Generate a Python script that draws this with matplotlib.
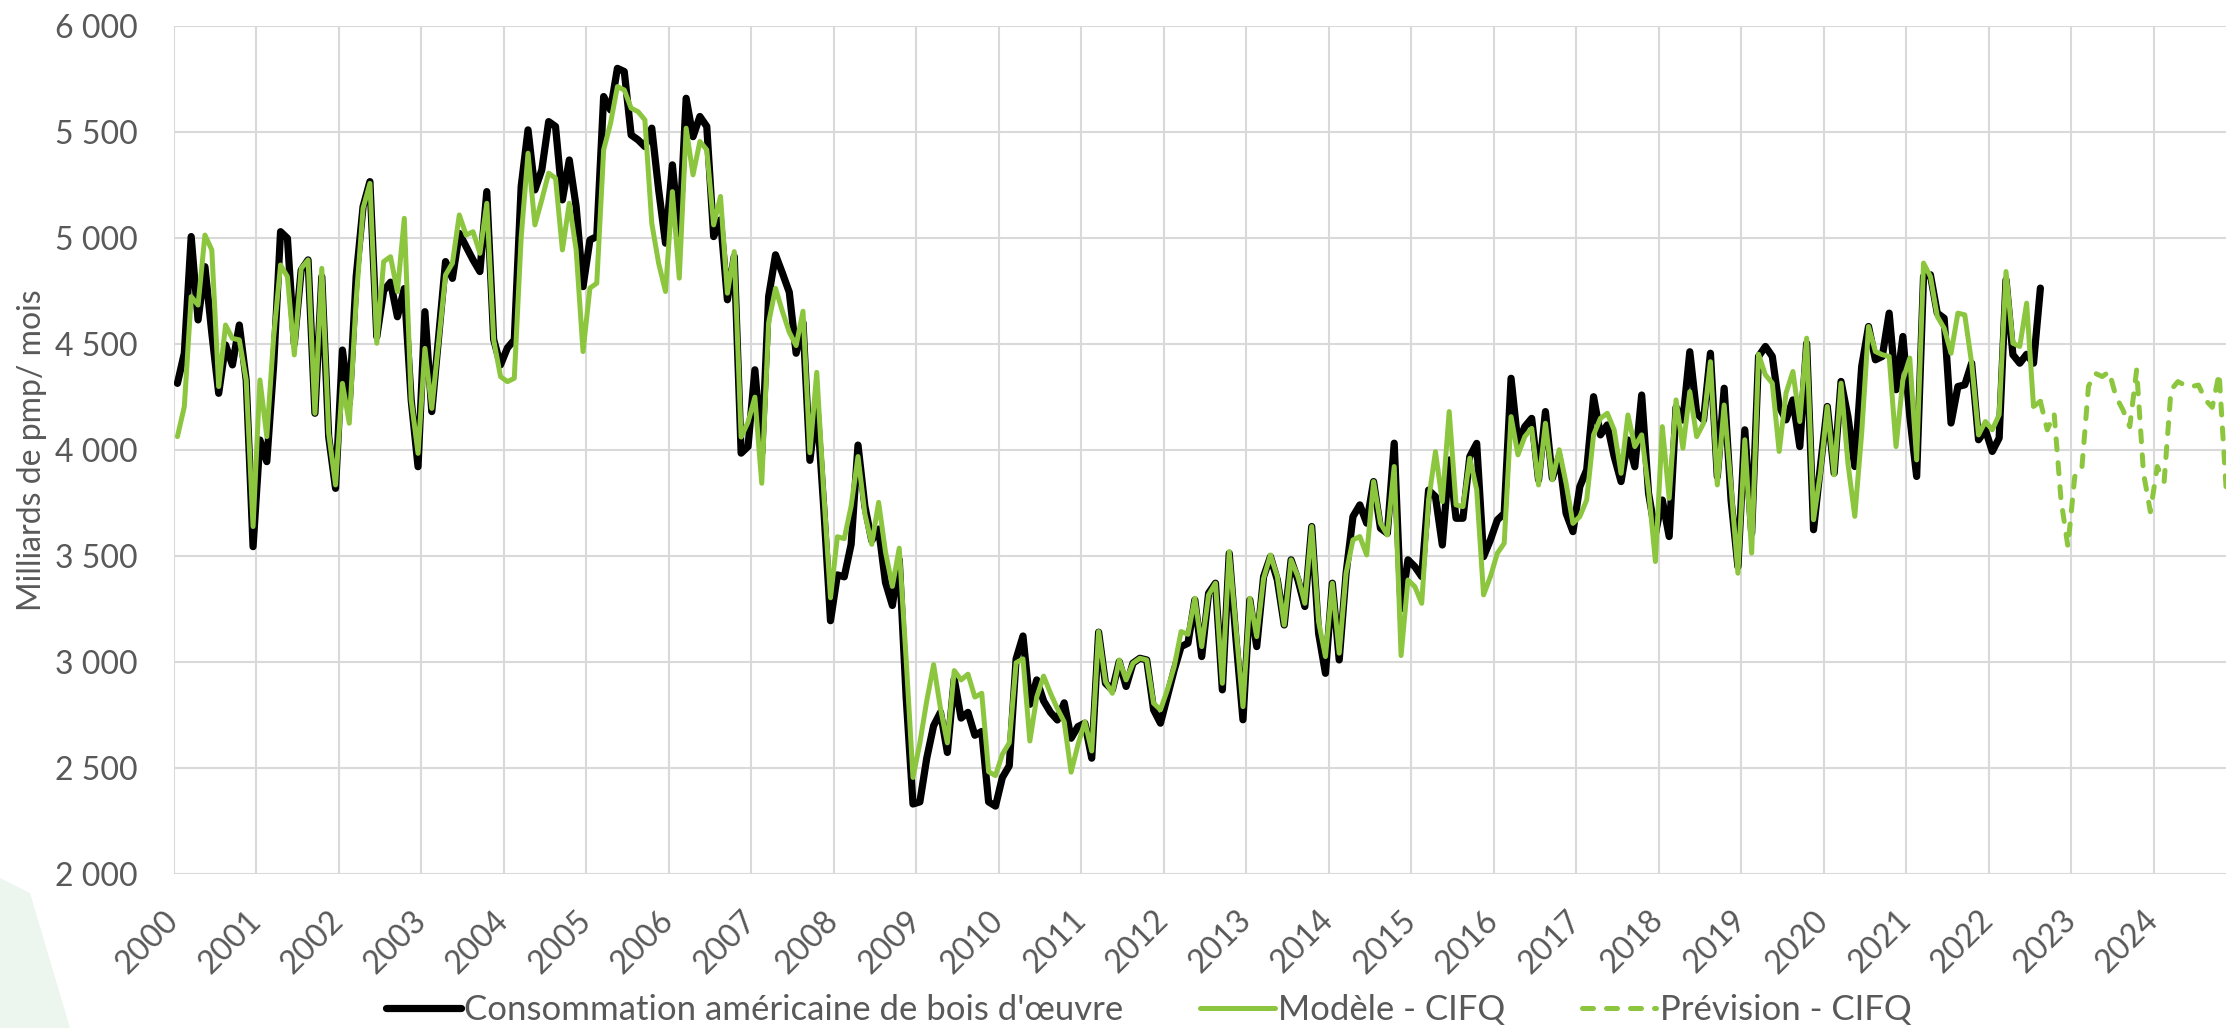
import numpy as np
import matplotlib
matplotlib.use("Agg")
import matplotlib.pyplot as plt
from matplotlib.patches import Polygon

plt.rcParams['font.family'] = ['Lato', 'DejaVu Sans']

# monthly values, Jan 2000 onwards (one row per year)
consommation = [
    4313, 4455, 5005, 4612, 4863, 4550, 4266, 4494, 4400, 4588, 4329, 3543,
    4046, 3944, 4400, 5028, 4997, 4500, 4847, 4895, 4172, 4816, 4062, 3818,
    4470, 4219, 4816, 5146, 5264, 4533, 4750, 4790, 4627, 4760, 4235, 3920,
    4651, 4180, 4533, 4887, 4808, 5020, 4957, 4895, 4840, 5217, 4520, 4400,
    4480, 4518, 5241, 5508, 5225, 5319, 5547, 5524, 5178, 5366, 5146, 4769,
    4989, 5005, 5665, 5602, 5798, 5783, 5484, 5461, 5429, 5516, 5225, 4974,
    5343, 5005, 5657, 5476, 5571, 5524, 5005, 5084, 4707, 4911, 3984, 4015,
    4377, 3984, 4722, 4919, 4833, 4743, 4455, 4599, 3950, 4220, 3734, 3194,
    3410, 3401, 3554, 4022, 3734, 3572, 3626, 3374, 3266, 3482, 2834, 2330,
    2340, 2546, 2699, 2762, 2573, 2920, 2735, 2762, 2654, 2672, 2340, 2320,
    2455, 2510, 3014, 3122, 2800, 2915, 2816, 2762, 2726, 2807, 2640, 2695,
    2711, 2546, 3140, 2899, 2868, 3001, 2884, 2994, 3017, 3009, 2774, 2711,
    2837, 2962, 3072, 3088, 3292, 3025, 3324, 3371, 2868, 3512, 3100, 2727,
    3292, 3072, 3402, 3496, 3386, 3174, 3481, 3386, 3261, 3638, 3135, 2946,
    3371, 3009, 3418, 3685, 3740, 3654, 3850, 3630, 3606, 4031, 3250, 3481,
    3449, 3402, 3810, 3779, 3551, 3952, 3677, 3677, 3968, 4030, 3496, 3575,
    3669, 3700, 4337, 4030, 4109, 4148, 3858, 4180, 3866, 3968, 3701, 3614,
    3826, 3905, 4250, 4070, 4117, 3968, 3850, 4046, 3920, 4258, 3795, 3606,
    3763, 3591, 4200, 4140, 4462, 4172, 4140, 4455, 3873, 4290, 3763, 3449,
    4094, 3607, 4440, 4487, 4440, 4204, 4141, 4235, 4015, 4502, 3623, 3921,
    4204, 3890, 4322, 4157, 3921, 4392, 4581, 4424, 4440, 4644, 4283, 4534,
    4157, 3874, 4817, 4825, 4644, 4620, 4126, 4298, 4306, 4408, 4047, 4094,
    3992, 4055, 4801, 4448, 4408, 4450, 4408, 4762,
]

modele = [
    4062, 4203, 4722, 4682, 5012, 4942, 4298, 4588, 4525, 4518, 4329, 3638,
    4329, 4062, 4533, 4871, 4816, 4447, 4855, 4895, 4172, 4855, 4077, 3834,
    4313, 4125, 4706, 5138, 5256, 4502, 4887, 4910, 4745, 5091, 4235, 3983,
    4478, 4195, 4510, 4824, 4879, 5107, 5012, 5028, 4926, 5162, 4518, 4345,
    4321, 4337, 5000, 5398, 5060, 5178, 5304, 5280, 4942, 5162, 4942, 4463,
    4762, 4785, 5414, 5539, 5712, 5696, 5610, 5594, 5555, 5068, 4879, 4746,
    5217, 4809, 5516, 5296, 5453, 5414, 5060, 5194, 4738, 4934, 4060, 4130,
    4248, 3842, 4599, 4761, 4653, 4554, 4491, 4653, 3986, 4365, 3806, 3302,
    3590, 3581, 3734, 3968, 3698, 3554, 3752, 3518, 3356, 3536, 3014, 2455,
    2618, 2816, 2987, 2780, 2618, 2959, 2915, 2942, 2834, 2852, 2482, 2464,
    2564, 2618, 2996, 3014, 2627, 2834, 2933, 2852, 2780, 2717, 2480, 2610,
    2718, 2580, 3143, 2907, 2852, 3009, 2915, 2994, 3017, 3009, 2805, 2774,
    2868, 2978, 3143, 3130, 3300, 3072, 3316, 3371, 2899, 3520, 3150, 2789,
    3300, 3119, 3394, 3504, 3402, 3174, 3481, 3402, 3276, 3638, 3190, 3025,
    3371, 3041, 3418, 3575, 3591, 3504, 3850, 3654, 3598, 3921, 3030, 3386,
    3355, 3276, 3763, 3991, 3755, 4180, 3740, 3732, 3960, 3811, 3316, 3402,
    3512, 3559, 4156, 3976, 4062, 4101, 3834, 4125, 3858, 4000, 3842, 3653,
    3685, 3763, 4070, 4148, 4172, 4093, 3889, 4164, 4015, 4070, 3811, 3473,
    4109, 3771, 4235, 4007, 4274, 4062, 4125, 4415, 3834, 4211, 3826, 3418,
    4047, 3513, 4450, 4353, 4314, 3992, 4267, 4369, 4133, 4526, 3670, 3890,
    4204, 3882, 4314, 3937, 3686, 4078, 4581, 4463, 4448, 4440, 4015, 4330,
    4432, 3952, 4880, 4817, 4628, 4573, 4455, 4644, 4636, 4408, 4070, 4133,
    4094, 4165, 4840, 4502, 4487, 4691, 4204, 4228,
]

# forecast starts on the last model month (Aug 2022)
prevision = [
    4228, 4094, 4170, 3764, 3544, 3874, 3900, 4300, 4360, 4345, 4368, 4250,
    4188, 4109, 4376, 3889, 3708, 3921, 3850, 4282, 4321, 4305, 4298, 4305,
    4235, 4200, 4360, 3826,
]

annees = list(range(2000, 2025))

GREEN = '#8CC63F'
GREY_TXT = '#595959'
GRID = '#D9D9D9'

fig = plt.figure(figsize=(22.26, 10.28), dpi=100)
W, H = 2226, 1028

# faint logo swoosh bottom-left
fig.patches.append(Polygon([(0, 0), (0, 150 / H), (30 / W, 135 / H), (70 / W, 0)],
                           closed=True, transform=fig.transFigure,
                           facecolor='#EDF5EF', edgecolor='none', zorder=0))

ax = fig.add_axes([174 / W, 1 - 874 / H, (W - 174) / W, (874 - 25.5) / H])

x_obs = np.arange(len(consommation))
x_mod = np.arange(len(modele))
x_prev = np.arange(len(modele) - 1, len(modele) - 1 + len(prevision))

ax.plot(x_obs, consommation, color='black', lw=5.2, solid_joinstyle='round',
        solid_capstyle='round', label="Consommation américaine de bois d'œuvre", zorder=3)
ax.plot(x_mod, modele, color=GREEN, lw=3.6, solid_joinstyle='round',
        solid_capstyle='round', label='Modèle - CIFQ', zorder=4)
ax.plot(x_prev, prevision, color=GREEN, lw=3.6, linestyle=(0, (2.2, 2.6)),
        dash_capstyle='round', label='Prévision - CIFQ', zorder=4)

ax.set_ylim(2000, 6000)
ax.set_xlim(-0.5, 298.0)

ax.set_yticks(np.arange(2000, 6001, 500))
ax.set_yticklabels([f"{v:,}".replace(",", " ") for v in range(2000, 6001, 500)])
ax.set_xticks([12 * i - 0.5 for i in range(len(annees))])
ax.set_xticklabels([str(a) for a in annees], rotation=45, ha='right',
                   va='center', rotation_mode='anchor')

ax.grid(True, color=GRID, lw=1.5)
ax.set_axisbelow(True)
for s in ax.spines.values():
    s.set_visible(False)
ax.tick_params(axis='y', length=0, pad=26, labelsize=23, labelcolor=GREY_TXT)
ax.tick_params(axis='x', length=0, pad=30, labelsize=23, labelcolor=GREY_TXT)

ax.set_ylabel('Milliards de pmp/ mois', fontsize=23, color=GREY_TXT)
ax.yaxis.set_label_coords((47 - 174) / (W - 174), 0.5)

fig.legend(loc='center', bbox_to_anchor=(1149 / W, 18 / H), ncol=3, frameon=False,
           fontsize=25, labelcolor=GREY_TXT, handlelength=2.15,
           handletextpad=0.1, columnspacing=2.2)

fig.savefig('out.png', dpi=100)
